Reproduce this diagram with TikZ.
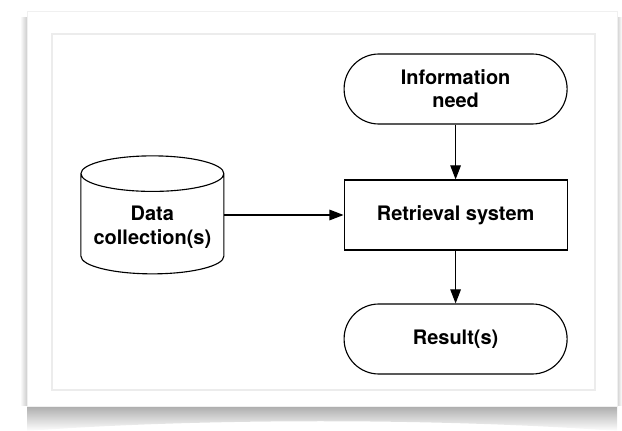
\documentclass[tikz,border=0pt]{standalone}
\usepackage{fontspec}
\setmainfont{TeX Gyre Heros}
\usetikzlibrary{positioning, arrows.meta, shapes.geometric}

\begin{document}
\begin{tikzpicture}[
        box/.style={draw, line width=0.8pt, fill=white, minimum width=5.575cm, minimum height=1.75cm, align=center, font=\fontsize{14.2}{16.4}\selectfont\bfseries},
        pill/.style={box, rounded corners=0.87cm},
        store/.style={box, cylinder, shape border rotate=90, aspect=0.28, minimum width=3.575cm, minimum height=2.95cm},
        flow/.style={->, line width=0.8pt, >={Triangle[length=10pt, width=7.5pt]}}
    ]
        \useasboundingbox (0,0) rectangle (15.55,-10.775);
        % card with its shadow
        \shade[top color=gray!65, bottom color=white] (0.675,-10.15) -- (15.425,-10.15) -- (15.425,-10.775) .. controls (11,-10.45) and (5,-10.45) .. (0.675,-10.775) -- cycle;
        \shade[left color=white, right color=gray!45] (0.5,-0.45) rectangle (0.7,-10.15);
        \shade[left color=gray!45, right color=white] (15.4,-0.45) rectangle (15.55,-10.15);
        \draw[gray!12, fill=white] (0.675,-0.275) rectangle (15.425,-10.15);
        \draw[gray!15, line width=0.8pt] (1.3,-0.85) rectangle (14.875,-9.75);
        % flow chart
        \draw (11.39,-2.225) node[pill] (need) {Information\\need};
        \draw (11.39,-5.375) node[box] (retrieval) {Retrieval system};
        \draw (11.39,-8.475) node[pill] (result) {Result(s)};
        \draw (3.81,-5.68) node[store] (data) {Data\\collection(s)};
        \draw[flow] (need) -- (retrieval);
        \draw[flow] (retrieval) -- (result);
        \draw[flow] (data.east |- retrieval.west) -- (retrieval.west);
    \end{tikzpicture}
\end{document}
